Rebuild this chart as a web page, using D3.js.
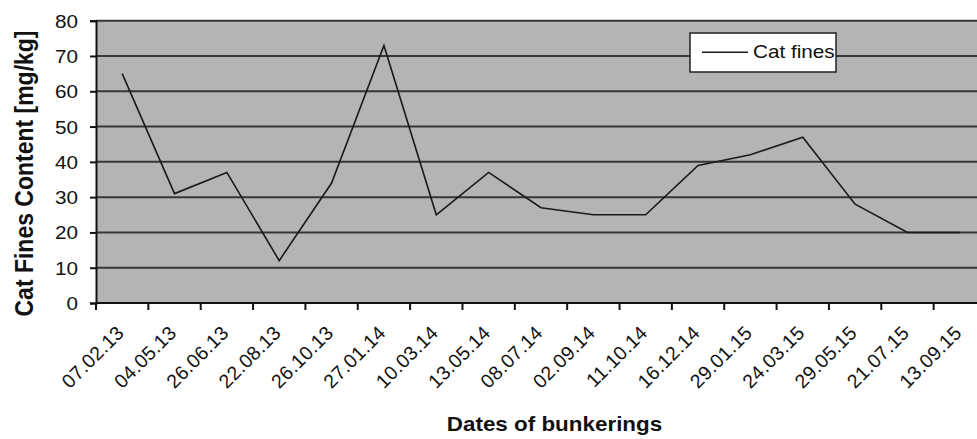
<!DOCTYPE html>
<html>
<head>
<meta charset="utf-8">
<script src="https://cdn.jsdelivr.net/npm/d3@7"></script>
<style>
  html, body { margin: 0; padding: 0; background: #ffffff; }
  svg { display: block; }
  text { font-family: Arial, "Liberation Sans", sans-serif; fill: #111; }
</style>
</head>
<body>
<svg id="chart" width="977" height="439"></svg>
<script>
const categories = ["07.02.13","04.05.13","26.06.13","22.08.13","26.10.13","27.01.14","10.03.14","13.05.14","08.07.14","02.09.14","11.10.14","16.12.14","29.01.15","24.03.15","29.05.15","21.07.15","13.09.15"];
const catFines = [65, 31, 37, 12, 34, 73, 25, 37, 27, 25, 25, 39, 42, 47, 28, 20, 20];
const yTicks = [0, 10, 20, 30, 40, 50, 60, 70, 80];
const seriesName = "Cat fines";
const yTitle = "Cat Fines Content [mg/kg]";
const xTitle = "Dates of bunkerings";

(function () {
const pLeft = 96, pRight = 986, pTop = 20.7, pBottom = 303;
const SX = 1.15; // horizontal glyph stretch of the original

const svg = d3.select("#chart");

const x = d3.scaleBand().domain(categories).range([pLeft, pRight]).paddingInner(0).paddingOuter(0);
const y = d3.scaleLinear().domain([0, 80]).range([pBottom, pTop]);

// plot background
svg.append("rect")
  .attr("x", pLeft).attr("y", pTop)
  .attr("width", pRight - pLeft).attr("height", pBottom - pTop)
  .attr("fill", "#b4b4b4");

// gridlines
svg.append("g").selectAll("line")
  .data(yTicks.filter(d => d > 0))
  .join("line")
  .attr("x1", pLeft).attr("x2", pRight)
  .attr("y1", d => y(d)).attr("y2", d => y(d))
  .attr("stroke", "#363636").attr("stroke-width", 2);

// y axis
const yAxis = d3.axisLeft(y).tickValues(yTicks).tickSize(6).tickPadding(0).tickFormat(d3.format("d"));
const gy = svg.append("g").attr("transform", `translate(${pLeft},0)`).call(yAxis);
gy.select(".domain").attr("stroke", "#111").attr("stroke-width", 2);
gy.selectAll(".tick line").attr("stroke", "#111").attr("stroke-width", 2);
gy.selectAll(".tick text").remove();
gy.selectAll(".tick").append("text")
  .attr("text-anchor", "end")
  .attr("transform", `translate(-18,6.5) scale(${SX},1)`)
  .attr("font-size", 18)
  .style("fill", "#111")
  .text(d => d);

// x axis: ticks at band boundaries
const boundaries = categories.map(c => x(c));
const gx = svg.append("g");
gx.append("line").attr("x1", pLeft).attr("x2", pRight).attr("y1", pBottom).attr("y2", pBottom)
  .attr("stroke", "#111").attr("stroke-width", 2);
gx.selectAll("line.tk").data(boundaries).join("line").attr("class", "tk")
  .attr("x1", d => d).attr("x2", d => d).attr("y1", pBottom).attr("y2", pBottom + 7)
  .attr("stroke", "#111").attr("stroke-width", 2);
gx.selectAll("text.lbl").data(categories).join("text").attr("class", "lbl")
  .attr("text-anchor", "end")
  .attr("font-size", 19.5)
  .attr("letter-spacing", 0.3)
  .attr("transform", d => `translate(${x(d) + x.bandwidth() / 2 + 3},${pBottom + 31}) rotate(-45)`)
  .text(d => d);

// series line
const line = d3.line()
  .x((d, i) => x(categories[i]) + x.bandwidth() / 2)
  .y(d => y(d));
svg.append("path")
  .datum(catFines)
  .attr("d", line)
  .attr("fill", "none")
  .attr("stroke", "#1a1a1a")
  .attr("stroke-width", 1.6)
  .attr("stroke-linejoin", "miter");

// legend
const lg = svg.append("g");
lg.append("rect").attr("x", 690).attr("y", 33).attr("width", 146).attr("height", 39)
  .attr("fill", "#ffffff").attr("stroke", "#222").attr("stroke-width", 1.5);
lg.append("line").attr("x1", 702).attr("x2", 748).attr("y1", 52.3).attr("y2", 52.3)
  .attr("stroke", "#1a1a1a").attr("stroke-width", 1.6);
lg.append("text").attr("transform", `translate(753,58) scale(${SX},1)`)
  .attr("font-size", 18).text(seriesName);

// axis titles
svg.append("text")
  .attr("text-anchor", "middle")
  .attr("font-weight", "bold")
  .attr("font-size", 23)
  .attr("transform", `translate(33,173.5) scale(${SX},1) rotate(-90)`)
  .text(yTitle);

svg.append("text")
  .attr("text-anchor", "middle")
  .attr("font-weight", "bold")
  .attr("font-size", 19.5)
  .attr("transform", `translate(554.5,431) scale(${SX},1)`)
  .text(xTitle);
})();
</script>
</body>
</html>
